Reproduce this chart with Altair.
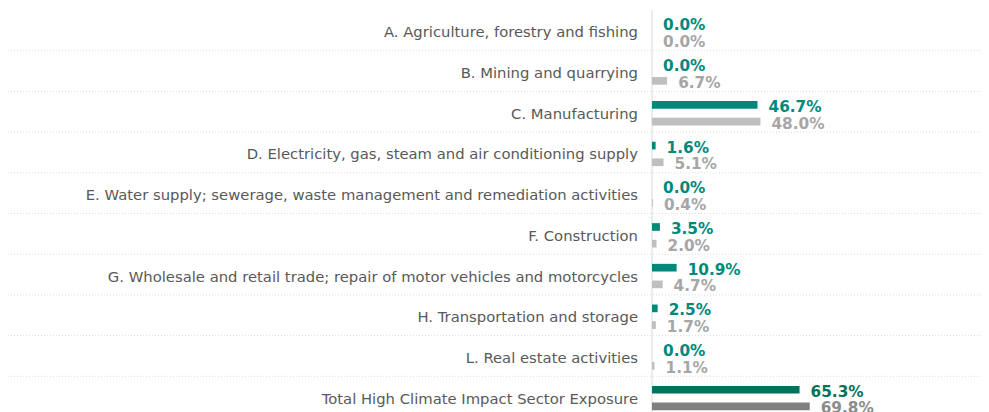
import altair as alt
import pandas as pd

categories = [
    "A. Agriculture, forestry and fishing",
    "B. Mining and quarrying",
    "C. Manufacturing",
    "D. Electricity, gas, steam and air conditioning supply",
    "E. Water supply; sewerage, waste management and remediation activities",
    "F. Construction",
    "G. Wholesale and retail trade; repair of motor vehicles and motorcycles",
    "H. Transportation and storage",
    "L. Real estate activities",
    "Total High Climate Impact Sector Exposure",
]
series = ["Fund", "Benchmark"]
fund = [0.0, 0.0, 46.7, 1.6, 0.0, 3.5, 10.9, 2.5, 0.0, 65.3]
benchmark = [0.0, 6.7, 48.0, 5.1, 0.4, 2.0, 4.7, 1.7, 1.1, 69.8]

rows = []
for i, c in enumerate(categories):
    total = c.startswith("Total")
    for s, vals in zip(series, [fund, benchmark]):
        tone = s + (" total" if total else "")
        rows.append({
            "category": c,
            "series": s,
            "value": vals[i],
            "tone": tone,
            "ttone": tone + " text",
            "label": f"{vals[i]:.1f}%",
        })
df = pd.DataFrame(rows)
cat_df = pd.DataFrame({"category": categories, "base": [0.0] * len(categories)})

W, H = 973, 407
xscale = alt.Scale(domain=[-285, 145.6], nice=False, zero=False)
yscale = alt.Scale(domain=categories, paddingInner=0, paddingOuter=0)
yoff = alt.Scale(domain=series, paddingInner=0.54, paddingOuter=0.49, align=0.59)

tones = ["Fund", "Benchmark", "Fund total", "Benchmark total",
         "Fund text", "Benchmark text", "Fund total text", "Benchmark total text"]
colors = ["#00897b", "#bfbfbf", "#00735f", "#7f7f7f",
          "#00897b", "#a6a6a6", "#00735f", "#8c8c8c"]
cscale = alt.Scale(domain=tones, range=colors)

X = alt.X("value:Q", scale=xscale, axis=None)
Y = alt.Y("category:N", scale=yscale, axis=None, sort=categories)
YO = alt.YOffset("series:N", scale=yoff, sort=series)

grid = alt.Chart(cat_df.iloc[:-1]).mark_rule(
    color="#dcdcdc", strokeDash=[1, 2], strokeWidth=1
).encode(y=alt.Y("category:N", scale=yscale, axis=None, sort=categories, bandPosition=1))

zero = alt.Chart(cat_df).mark_rule(color="#ececec", strokeWidth=1).encode(
    x=alt.X("base:Q", scale=xscale, axis=None),
    y=alt.value(0),
    y2=alt.value(H),
)

bars = alt.Chart(df).mark_bar().encode(
    x=X, y=Y, yOffset=YO,
    color=alt.Color("tone:N", scale=cscale, legend=None),
)

values = alt.Chart(df).mark_text(
    align="left", baseline="middle", dx=11, dy=2, font="DejaVu Sans",
    fontSize=15.3, fontWeight="bold"
).encode(
    x=X, y=Y, yOffset=YO,
    text="label:N",
    color=alt.Color("ttone:N", scale=cscale, legend=None),
)

labels = alt.Chart(cat_df).mark_text(
    align="right", baseline="middle", dx=-14, dy=3, font="DejaVu Sans",
    fontSize=14.8, color="#595959"
).encode(
    x=alt.X("base:Q", scale=xscale, axis=None),
    y=Y,
    text="category:N",
)

chart = alt.layer(grid, zero, bars, values, labels).properties(
    width=W, height=H,
    padding={"left": 0, "right": 0, "top": 2, "bottom": 0},
    autosize=alt.AutoSizeParams(type="none"),
).configure_view(stroke=None)

chart.save("out.html", embed_options={"renderer": "svg", "actions": False})
